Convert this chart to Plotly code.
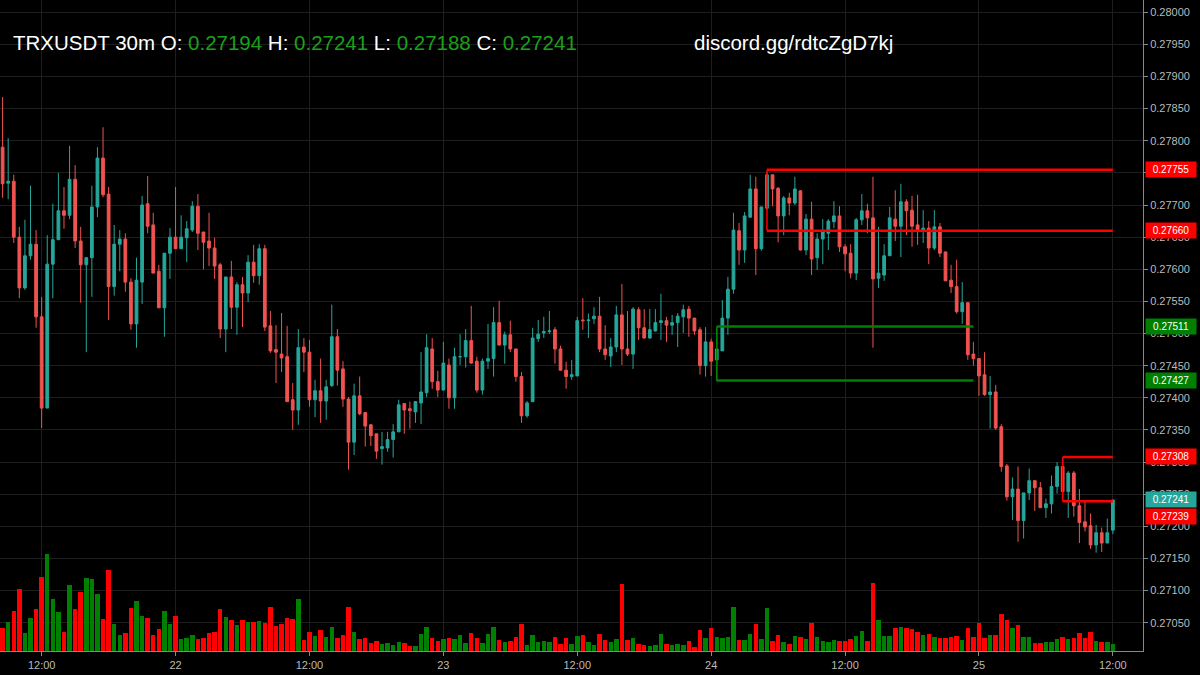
import pandas as pd
import plotly.graph_objects as go

opens = [27790,27734,27737,27650,27571,27621,27639,27526,27384,27608,27646,27691,27684,27740,27644,27607,27618,27697,27773,27717,
27573,27639,27647,27580,27515,27580,27702,27669,27597,27540,27625,27650,27632,27649,27661,27698,27658,27644,27633,27607,
27507,27588,27541,27576,27563,27611,27590,27632,27512,27475,27468,27464,27397,27381,27479,27471,27397,27411,27395,27419,
27495,27445,27398,27331,27403,27377,27358,27344,27321,27322,27335,27347,27391,27383,27378,27392,27408,27476,27425,27412,
27451,27400,27464,27464,27489,27457,27412,27457,27461,27517,27482,27498,27476,27433,27372,27394,27492,27501,27503,27506,
27476,27443,27433,27434,27521,27520,27523,27527,27476,27465,27479,27529,27476,27468,27537,27509,27493,27504,27517,27520,
27513,27517,27526,27538,27524,27506,27450,27487,27459,27473,27524,27569,27660,27630,27681,27725,27632,27695,27747,27726,
27683,27711,27703,27722,27630,27678,27618,27647,27656,27674,27683,27635,27625,27594,27677,27691,27680,27586,27591,27621,
27678,27667,27705,27692,27669,27661,27664,27633,27666,27627,27583,27573,27534,27548,27468,27461,27436,27405,27409,27355,
27294,27246,27258,27209,27252,27271,27260,27229,27235,27262,27293,27254,27283,27232,27207,27201,27171,27190,27174,27194]
highs = [27868,27804,27747,27666,27677,27730,27661,27557,27653,27702,27750,27728,27792,27762,27666,27618,27730,27790,27821,27728,
27669,27661,27656,27586,27618,27714,27745,27688,27607,27625,27664,27728,27684,27675,27706,27717,27658,27688,27649,27610,
27588,27613,27580,27588,27622,27638,27639,27638,27535,27513,27532,27512,27423,27507,27493,27490,27428,27461,27428,27545,
27507,27457,27401,27422,27433,27377,27359,27344,27347,27347,27359,27397,27391,27394,27395,27471,27499,27493,27442,27487,
27461,27478,27499,27507,27543,27464,27461,27515,27541,27551,27503,27520,27476,27440,27395,27509,27521,27526,27535,27510,
27481,27456,27459,27526,27555,27531,27541,27557,27513,27493,27543,27577,27535,27541,27541,27538,27538,27538,27562,27526,
27529,27532,27545,27543,27524,27510,27510,27492,27510,27552,27588,27688,27672,27689,27747,27744,27697,27751,27747,27728,
27714,27719,27744,27723,27686,27705,27656,27678,27678,27706,27698,27639,27639,27680,27717,27702,27744,27666,27639,27697,
27723,27733,27709,27714,27716,27692,27675,27692,27672,27627,27607,27615,27580,27548,27487,27461,27471,27434,27420,27359,
27297,27276,27293,27252,27290,27272,27269,27243,27279,27300,27307,27286,27286,27258,27238,27220,27202,27198,27212,27241]
lows = [27711,27709,27641,27555,27568,27615,27509,27353,27384,27555,27646,27663,27678,27633,27548,27471,27557,27681,27712,27521,
27559,27597,27565,27506,27478,27546,27656,27594,27540,27495,27585,27632,27632,27611,27658,27630,27600,27605,27585,27493,
27471,27507,27498,27510,27549,27579,27576,27504,27470,27423,27440,27394,27350,27358,27440,27386,27370,27361,27366,27417,
27419,27386,27288,27311,27373,27324,27325,27305,27296,27316,27307,27347,27344,27352,27361,27359,27401,27414,27401,27412,
27383,27383,27451,27447,27453,27408,27405,27445,27433,27482,27453,27471,27425,27361,27369,27394,27487,27493,27499,27453,
27442,27414,27428,27434,27506,27493,27515,27471,27459,27448,27471,27451,27465,27445,27490,27492,27492,27503,27490,27487,
27498,27479,27501,27495,27498,27436,27433,27434,27426,27473,27498,27562,27607,27610,27681,27591,27629,27692,27698,27642,
27653,27684,27700,27629,27622,27591,27599,27608,27630,27664,27627,27597,27586,27583,27669,27656,27478,27571,27582,27621,
27644,27619,27653,27635,27638,27641,27608,27630,27619,27582,27563,27531,27515,27459,27450,27403,27403,27352,27350,27285,
27240,27210,27176,27181,27241,27224,27229,27213,27220,27251,27246,27213,27215,27174,27192,27165,27159,27160,27174,27188]
closes = [27733,27737,27650,27571,27621,27639,27526,27384,27608,27646,27691,27684,27740,27644,27607,27618,27697,27773,27716,27573,
27639,27647,27580,27515,27583,27700,27667,27594,27540,27625,27650,27632,27650,27663,27698,27656,27642,27633,27605,27507,
27588,27541,27576,27563,27611,27590,27632,27510,27473,27471,27462,27394,27381,27478,27471,27397,27411,27395,27417,27495,
27443,27398,27331,27403,27375,27356,27341,27317,27324,27335,27347,27389,27381,27380,27394,27409,27478,27425,27412,27454,
27400,27464,27464,27489,27454,27412,27457,27461,27517,27482,27498,27476,27433,27372,27392,27493,27499,27503,27504,27476,
27443,27433,27436,27520,27520,27521,27527,27476,27467,27479,27529,27476,27468,27538,27509,27493,27506,27517,27520,27513,
27517,27527,27537,27524,27504,27450,27487,27457,27476,27524,27569,27661,27630,27683,27725,27632,27697,27747,27725,27683,
27711,27703,27725,27630,27678,27616,27647,27658,27675,27683,27635,27624,27594,27677,27691,27680,27585,27594,27621,27680,
27667,27705,27691,27667,27661,27664,27633,27666,27625,27582,27573,27534,27548,27467,27461,27434,27405,27409,27353,27293,
27246,27258,27209,27252,27271,27260,27229,27235,27262,27293,27254,27283,27232,27206,27199,27171,27190,27174,27190,27241]
volumes = [23,29,40,62,18,33,42,74,97,52,39,19,66,42,59,73,72,57,32,81,
27,16,18,43,50,35,33,16,22,40,27,35,12,13,16,12,13,18,19,42,
34,31,26,31,29,29,30,28,44,25,27,33,32,52,11,19,15,21,14,24,
13,16,44,19,12,13,8,10,7,8,6,9,8,5,5,17,24,13,10,12,
13,12,16,8,18,13,8,17,24,11,9,10,14,27,6,16,9,10,9,14,
7,13,7,15,16,9,6,17,11,9,12,67,11,13,7,6,5,6,17,7,
6,7,6,10,4,21,13,23,14,13,14,44,11,11,17,27,12,43,10,16,
9,7,15,14,12,28,14,10,9,11,10,10,12,15,20,10,68,31,15,15,
23,24,23,22,19,16,17,14,13,13,14,15,11,23,14,28,13,16,16,37,
31,23,26,14,14,8,8,9,9,12,14,12,13,18,13,19,10,9,9,7]

y_ticks = [0.27050,0.27100,0.27150,0.27200,0.27250,0.27300,0.27350,0.27400,0.27450,0.27500,
           0.27550,0.27600,0.27650,0.27700,0.27750,0.27800,0.27850,0.27900,0.27950,0.28000]
x_tick_times = ["2018-11-21 12:00","2018-11-22 00:00","2018-11-22 12:00","2018-11-23 00:00","2018-11-23 12:00",
                "2018-11-24 00:00","2018-11-24 12:00","2018-11-25 00:00","2018-11-25 12:00"]
x_tick_text = ["12:00","22","12:00","23","12:00","24","12:00","25","12:00"]

# levels: price, start candle index, end candle index, color
level_prices = [0.27755,0.27660,0.27511,0.27427,0.27308,0.27239]
level_start = [137,137,128,128,190,190]
level_end = [199,199,174,174,199,199]
level_colors = ["#ff0000","#ff0000","#008000","#008000","#ff0000","#ff0000"]
last_price = 0.27241

S = 1e-5
o = [v*S for v in opens]; h = [v*S for v in highs]; l = [v*S for v in lows]; c = [v*S for v in closes]
times = pd.date_range("2018-11-21 08:30", periods=len(closes), freq="30min")
vcol = ["#008000" if cc >= oo else "#ff0000" for oo, cc in zip(o, c)]

fig = go.Figure()
fig.add_trace(go.Bar(x=times, y=volumes, marker=dict(color=vcol, line=dict(width=0)), yaxis="y2",
                     width=1000*60*30*0.8, showlegend=False, hoverinfo="skip"))
fig.add_trace(go.Candlestick(x=times, open=o, high=h, low=l, close=c,
    increasing=dict(line=dict(color="#26a69a", width=1), fillcolor="#26a69a"),
    decreasing=dict(line=dict(color="#ef5350", width=1), fillcolor="#ef5350"),
    whiskerwidth=0, showlegend=False))

shapes = []
for p, s, e, col in zip(level_prices, level_start, level_end, level_colors):
    shapes.append(dict(type="line", xref="x", yref="y", x0=times[s], x1=times[e], y0=p, y1=p,
                       line=dict(color=col, width=2.5)))
for a, b in [(0, 1), (2, 3), (4, 5)]:
    shapes.append(dict(type="line", xref="x", yref="y", x0=times[level_start[a]], x1=times[level_start[a]],
                       y0=level_prices[a], y1=level_prices[b], line=dict(color=level_colors[a], width=1.5)))

ann = []
tag_items = list(zip(level_prices, level_colors)) + [(last_price, "#26a69a")]
for p, col in tag_items:
    shift = -15 if p == 0.27239 else 0
    ann.append(dict(xref="paper", yref="y", x=1.0, y=p, text=f"{p:.5f}", showarrow=False, xanchor="left",
                    xshift=2, yshift=shift, bgcolor=col, font=dict(color="white", size=10, family="Arial"),
                    borderpad=2, width=46, align="center"))
g = "#1aa01a"
ann.append(dict(xref="paper", yref="paper", x=0.01, y=0.935, xanchor="left", yanchor="middle", showarrow=False,
                text=f"TRXUSDT 30m O: <span style='color:{g}'>{opens[-1]*S:.5f}</span> H: <span style='color:{g}'>{highs[-1]*S:.5f}</span> "
                     f"L: <span style='color:{g}'>{lows[-1]*S:.5f}</span> C: <span style='color:{g}'>{closes[-1]*S:.5f}</span>",
                font=dict(color="white", size=20.5, family="Arial")))
ann.append(dict(xref="paper", yref="paper", x=0.605, y=0.935, xanchor="left", yanchor="middle", showarrow=False,
                text="discord.gg/rdtcZgD7kj", font=dict(color="white", size=20.5, family="Arial")))

fig.update_layout(
    width=1200, height=675, paper_bgcolor="#000000", plot_bgcolor="#000000",
    margin=dict(l=0, r=57, t=0, b=24), shapes=shapes, annotations=ann, bargap=0,
    font=dict(family="Arial", color="#bbbbbb", size=11),
    xaxis=dict(rangeslider=dict(visible=False), range=[times[0] - pd.Timedelta(minutes=14), times[0] + pd.Timedelta(minutes=30*204.4)],
               tickvals=pd.to_datetime(x_tick_times), ticktext=x_tick_text, showgrid=True, gridcolor="#1e1e1e",
               ticks="outside", ticklen=4, tickcolor="#888", showline=True, linecolor="#888", zeroline=False,
               tickfont=dict(size=11, color="#bbbbbb")),
    yaxis=dict(side="right", range=[0.27006, 0.28019], tickvals=y_ticks, ticktext=[f"{v:.5f}" for v in y_ticks],
               showgrid=True, gridcolor="#1e1e1e", ticks="outside", ticklen=4, tickcolor="#888", showline=True,
               linecolor="#888", zeroline=False, tickfont=dict(size=11, color="#bbbbbb")),
    yaxis2=dict(overlaying="y", range=[0, 651], visible=False),
)
fig.write_html("out.html", config={"displayModeBar": False},
               post_script="document.body.style.margin='0';document.body.style.overflow='hidden';document.body.style.background='#000';")
